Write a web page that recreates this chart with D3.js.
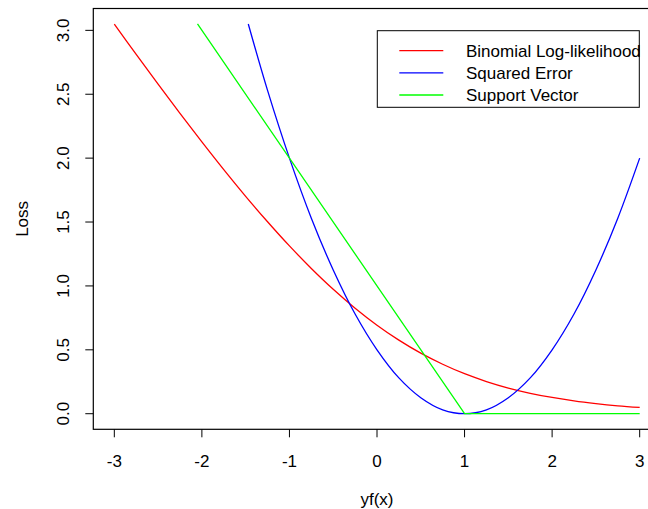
<!DOCTYPE html>
<html>
<head>
<meta charset="utf-8">
<script src="https://cdn.jsdelivr.net/npm/d3@7"></script>
<style>
  body { margin: 0; background: #fff; }
  svg { display: block; font-family: "Liberation Sans", Arial, Helvetica, sans-serif; }
  text { fill: #000; }
</style>
</head>
<body>
<svg id="chart" width="648" height="509"></svg>
<script>
// Data
const binomX = [-3, -2.75, -2.5, -2.25, -2, -1.75, -1.5, -1.25, -1, -0.75, -0.5, -0.25, 0,
                0.25, 0.5, 0.75, 1, 1.25, 1.5, 1.75, 2, 2.25, 2.5, 2.75, 3];
const binomY = [3.049, 2.812, 2.579, 2.350, 2.127, 1.910, 1.701, 1.502, 1.313, 1.137, 0.974, 0.826, 0.693,
                0.576, 0.474, 0.387, 0.313, 0.252, 0.201, 0.160, 0.127, 0.100, 0.079, 0.062, 0.049];

const sqX = [-1.47, -1.25, -1, -0.75, -0.5, -0.25, 0, 0.25, 0.5, 0.75, 1,
             1.25, 1.5, 1.75, 2, 2.25, 2.5, 2.75, 3];
const sqY = [3.05, 2.53, 2.00, 1.53, 1.125, 0.78, 0.50, 0.28, 0.125, 0.03, 0,
             0.03, 0.125, 0.28, 0.50, 0.78, 1.125, 1.53, 2.00];

const svX = [-2.05, 1, 3];
const svY = [3.05, 0, 0];

const seriesNames = ['Binomial Log-likelihood', 'Squared Error', 'Support Vector'];
const seriesColors = ['#ff0000', '#0000ff', '#00ff00'];

const xTicks = [-3, -2, -1, 0, 1, 2, 3];
const yTicks = [0, 0.5, 1, 1.5, 2, 2.5, 3];

// Layout (R base graphics look, plot region runs off the right edge)
const svg = d3.select('#chart');
const plotLeft = 93.3, plotRight = 660.7, plotTop = 8.5, plotBottom = 429.3;
const fontSize = 17;

const x = d3.scaleLinear().domain([-3.24, 3.24]).range([plotLeft, plotRight]);
const y = d3.scaleLinear().domain([-0.122, 3.171]).range([plotBottom, plotTop]);

// Curves
const series = [
  { xs: binomX, ys: binomY, curve: d3.curveCatmullRom },
  { xs: sqX, ys: sqY, curve: d3.curveCatmullRom },
  { xs: svX, ys: svY, curve: d3.curveLinear }
];

series.forEach((s, i) => {
  const pts = s.xs.map((v, j) => [v, s.ys[j]]);
  const line = d3.line().x(d => x(d[0])).y(d => y(d[1])).curve(s.curve);
  svg.append('path')
    .attr('d', line(pts))
    .attr('fill', 'none')
    .attr('stroke', seriesColors[i])
    .attr('stroke-width', 1.3);
});

// Box around plot region
svg.append('rect')
  .attr('x', plotLeft).attr('y', plotTop)
  .attr('width', plotRight - plotLeft).attr('height', plotBottom - plotTop)
  .attr('fill', 'none').attr('stroke', '#000').attr('stroke-width', 1.2);

// X axis
const xAxis = svg.append('g');
xAxis.selectAll('line').data(xTicks).enter().append('line')
  .attr('x1', d => x(d)).attr('x2', d => x(d))
  .attr('y1', plotBottom).attr('y2', plotBottom + 8)
  .attr('stroke', '#000');
xAxis.selectAll('text').data(xTicks).enter().append('text')
  .attr('x', d => x(d)).attr('y', 466.5)
  .attr('text-anchor', 'middle')
  .attr('font-size', fontSize)
  .text(d => d);

// Y axis
const yAxis = svg.append('g');
yAxis.selectAll('line').data(yTicks).enter().append('line')
  .attr('x1', plotLeft - 8).attr('x2', plotLeft)
  .attr('y1', d => y(d)).attr('y2', d => y(d))
  .attr('stroke', '#000');
yAxis.selectAll('text').data(yTicks).enter().append('text')
  .attr('transform', d => `translate(69, ${y(d)}) rotate(-90)`)
  .attr('text-anchor', 'middle')
  .attr('font-size', fontSize)
  .text(d => d.toFixed(1));

// Axis titles
svg.append('text')
  .attr('x', (plotLeft + plotRight) / 2).attr('y', 505)
  .attr('text-anchor', 'middle')
  .attr('font-size', fontSize)
  .text('yf(x)');
svg.append('text')
  .attr('transform', `translate(28, ${(plotTop + plotBottom) / 2}) rotate(-90)`)
  .attr('text-anchor', 'middle')
  .attr('font-size', fontSize)
  .text('Loss');

// Legend
const legend = svg.append('g');
legend.append('rect')
  .attr('x', 377.3).attr('y', 30.7)
  .attr('width', 262).attr('height', 76.6)
  .attr('fill', '#fff').attr('stroke', '#000');
const rowY = [50.7, 72.8, 95];
seriesNames.forEach((name, i) => {
  legend.append('line')
    .attr('x1', 399.3).attr('x2', 443.3)
    .attr('y1', rowY[i]).attr('y2', rowY[i])
    .attr('stroke', seriesColors[i]).attr('stroke-width', 1.3);
  legend.append('text')
    .attr('x', 466).attr('y', rowY[i] + 6)
    .attr('font-size', fontSize)
    .text(name);
});
</script>
</body>
</html>
